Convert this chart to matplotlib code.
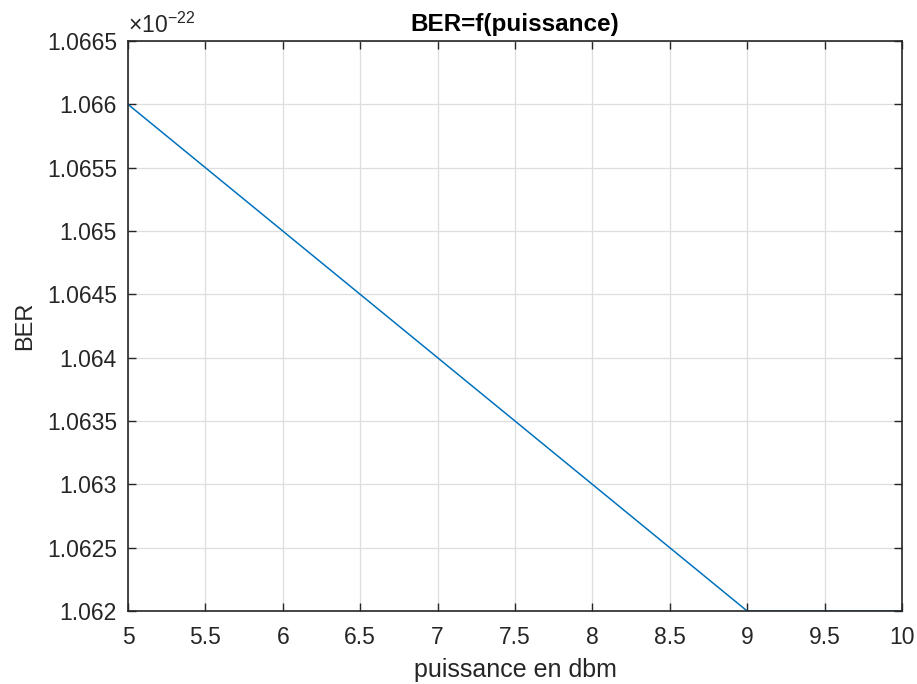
import matplotlib
matplotlib.use("Agg")
import matplotlib.pyplot as plt
from matplotlib.ticker import FuncFormatter, MultipleLocator

puissance = [5, 6, 7, 8, 9, 10]
ber = [1.066e-22, 1.065e-22, 1.064e-22, 1.063e-22, 1.062e-22, 1.062e-22]
echelle = 1e-22

plt.rcParams["font.family"] = ["Liberation Sans", "DejaVu Sans"]
plt.rcParams["mathtext.fontset"] = "custom"
plt.rcParams["mathtext.rm"] = "Liberation Sans"
plt.rcParams["mathtext.it"] = "Liberation Sans"

fig = plt.figure(figsize=(9.17, 6.84), dpi=100)
ax = fig.add_axes([0.1396, 0.1067, 0.8440, 0.8333])

ax.plot(puissance, ber, color="#0072BD", linewidth=1.1)

ax.set_xlim(5, 10)
ax.set_ylim(1.062e-22, 1.0665e-22)
ax.xaxis.set_major_locator(MultipleLocator(0.5))
ax.yaxis.set_major_locator(MultipleLocator(0.0005e-22))
ax.xaxis.set_major_formatter(FuncFormatter(lambda v, p: f"{v:g}"))
ax.yaxis.set_major_formatter(FuncFormatter(lambda v, p: f"{round(v / echelle, 4):g}"))
ax.xaxis.offsetText.set_visible(False)
ax.yaxis.offsetText.set_visible(False)

ax.grid(True, color="#dedede", linewidth=0.9)
ax.set_axisbelow(True)
ax.tick_params(direction="in", length=6, width=1, color="#262626",
               labelsize=16.5, labelcolor="#262626", top=True, right=True)
ax.tick_params(axis="x", pad=11)
ax.tick_params(axis="y", pad=8)
for s in ax.spines.values():
    s.set_color("#262626")
    s.set_linewidth(1.2)

# multiplicateur affiché en haut à gauche, comme dans MATLAB
ax.text(0.0, 1.006, r"$\mathrm{\times}$10$^{\mathrm{-22}}$", transform=ax.transAxes,
        fontsize=16.5, color="#262626", ha="left", va="bottom")

ax.set_title("BER=f(puissance)", fontsize=17.5, fontweight="bold", color="black", pad=7)
ax.set_xlabel("puissance en dbm", fontsize=18, color="#262626", labelpad=6)
ax.set_ylabel("BER", fontsize=17, color="#262626", labelpad=8)

fig.savefig("out.png", dpi=100)
